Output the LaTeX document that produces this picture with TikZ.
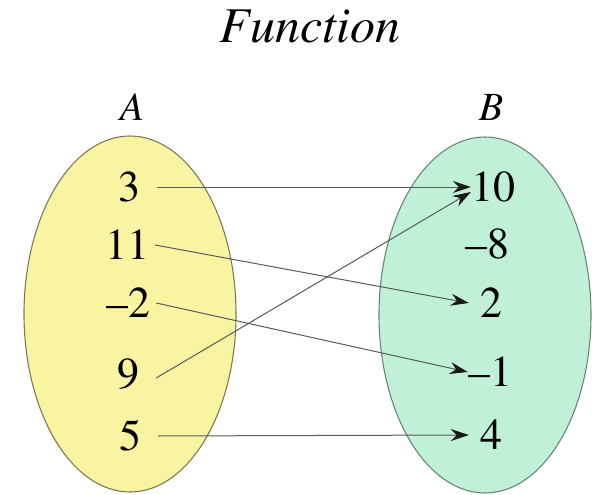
\documentclass[tikz,border=0pt]{standalone}
\usepackage[T1]{fontenc}
\renewcommand{\rmdefault}{ptm}
\usepackage{xcolor}
\usetikzlibrary{arrows.meta,shapes.geometric}

\definecolor{setyellow}{RGB}{248,244,162}
\definecolor{setgreen}{RGB}{192,240,215}
\definecolor{edgeyellow}{RGB}{125,122,85}
\definecolor{edgegreen}{RGB}{105,135,120}

\begin{document}
\begin{tikzpicture}[
    x=1pt, y=-1pt,
    setbox/.style={
        ellipse,
        inner sep=0pt,
        line width=1.1pt,
        minimum width=212pt,
        minimum height=356pt
    },
    setname/.style={anchor=base, font=\fontsize{40}{44}\selectfont\itshape},
    elemleft/.style={inner sep=0pt, minimum width=56pt, font=\fontsize{44}{48}\selectfont},
    elemright/.style={inner sep=0pt, minimum width=44pt, font=\fontsize{44}{48}\selectfont},
    maparrow/.style={-{Stealth[length=18pt,width=12pt,inset=6pt,color=black!90]}, line width=1pt, draw=black!65}
]
\useasboundingbox (0,0) rectangle (592,495);

% =========================================================
% Sets
% =========================================================
\node[setbox, fill=setyellow, draw=edgeyellow] (setA) at (130,314) {};
\node[setbox, fill=setgreen, draw=edgegreen] (setB) at (485,315) {};

\node[anchor=base, font=\fontsize{50}{56}\selectfont\itshape] (title) at (310,43) {Function};
\node[setname] (nameA) at (132,121) {A};
\node[setname] (nameB) at (491,121) {B};

% =========================================================
% Elements
% =========================================================

% Domain A
\node[elemleft] (a3) at (129,187) {3};
\node[elemleft] (a11) at (127,245) {11};
\node[elemleft] (am2) at (128,303) {\textendash2};
\node[elemleft] (a9) at (128,374) {9};
\node[elemleft] (a5) at (130,436) {5};

% Codomain B
\node[elemright] (b10) at (493,187) {10};
\node[elemright] (bm8) at (487,244) {\textendash8};
\node[elemright] (b2) at (491,303) {2};
\node[elemright] (bm1) at (490,372) {\textendash1};
\node[elemright] (b4) at (491,435) {4};

% =========================================================
% Mapping
% =========================================================
\draw[maparrow] (a3.east) -- (b10.west);
\draw[maparrow] (a11.east) -- (b2.west);
\draw[maparrow] (am2.east) -- (bm1.west);
\draw[maparrow] ([yshift=-4pt]a9.east) -- ([yshift=-5pt]b10.west);
\draw[maparrow] (a5.east) -- (b4.west);

\end{tikzpicture}
\end{document}
